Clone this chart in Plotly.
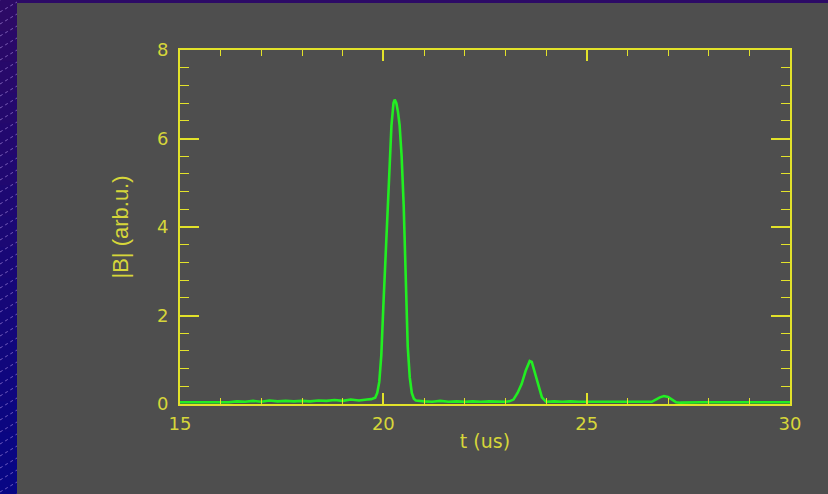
import plotly.graph_objects as go

# ---- data ----
t_us = [15.0, 15.2, 15.4, 15.6, 15.8, 16.0, 16.2, 16.4, 16.6, 16.8,
        17.0, 17.2, 17.4, 17.6, 17.8, 18.0, 18.2, 18.4, 18.6, 18.8,
        19.0, 19.2, 19.4, 19.6, 19.7, 19.8, 19.85, 19.9, 19.95, 20.0,
        20.05, 20.1, 20.15, 20.2, 20.25, 20.28, 20.32, 20.36, 20.4, 20.45,
        20.5, 20.55, 20.6, 20.65, 20.7, 20.75, 20.8, 21.0, 21.2, 21.4,
        21.6, 21.8, 22.0, 22.2, 22.4, 22.6, 22.8, 23.0, 23.1, 23.2,
        23.3, 23.4, 23.5, 23.6, 23.65, 23.7, 23.8, 23.9, 24.0, 24.2,
        24.4, 24.6, 24.8, 25.0, 25.2, 25.4, 25.6, 25.8, 26.0, 26.2,
        26.4, 26.6, 26.7, 26.8, 26.9, 27.0, 27.1, 27.2, 27.3, 27.5,
        27.8, 28.0, 28.3, 28.6, 29.0, 29.3, 29.6, 30.0]
b_abs = [0.04, 0.04, 0.05, 0.04, 0.05, 0.05, 0.04, 0.06, 0.05, 0.07,
         0.05, 0.08, 0.06, 0.07, 0.06, 0.07, 0.06, 0.08, 0.07, 0.09,
         0.07, 0.10, 0.08, 0.10, 0.11, 0.14, 0.25, 0.50, 1.10, 2.20,
         3.20, 4.50, 5.50, 6.30, 6.80, 6.88, 6.80, 6.60, 6.30, 5.60,
         4.50, 2.60, 1.30, 0.60, 0.25, 0.12, 0.08, 0.06, 0.05, 0.07,
         0.05, 0.06, 0.05, 0.06, 0.05, 0.06, 0.05, 0.05, 0.06, 0.10,
         0.25, 0.45, 0.75, 0.97, 0.95, 0.80, 0.45, 0.15, 0.05, 0.06,
         0.05, 0.06, 0.05, 0.05, 0.05, 0.04, 0.05, 0.05, 0.04, 0.05,
         0.05, 0.05, 0.10, 0.15, 0.18, 0.16, 0.10, 0.04, 0.03, 0.04,
         0.04, 0.04, 0.04, 0.04, 0.04, 0.04, 0.04, 0.04]

x_range = [15, 30]
y_range = [0, 8]
x_title = "t (us)"
y_title = "|B| (arb.u.)"

# ---- styling ----
W, H = 828, 494
L, R, T, B = 180, 38, 50, 90
pw, ph = W - L - R, H - T - B
YEL = "#e2e22a"
TXT = "#d6d63a"
GRAY = "#4e4e4e"
GREEN = "#22ee22"


def px(xp):
    return (xp - L) / pw


def py(yp):
    return (H - B - yp) / ph


shapes = []
# purple-to-blue background bands
nb = 16
c0 = (0x2c, 0x0a, 0x66)
c1 = (0x08, 0x06, 0x84)
for i in range(nb):
    f = i / (nb - 1)
    col = "rgb(%d,%d,%d)" % tuple(int(a + (b - a) * f) for a, b in zip(c0, c1))
    y0p = i * H / nb
    y1p = (i + 1) * H / nb + 1
    shapes.append(dict(type="rect", xref="paper", yref="paper", layer="below",
                       x0=px(-2), x1=px(W + 2), y0=py(y1p), y1=py(y0p),
                       line=dict(width=0), fillcolor=col))
# diagonal hatch in the left stripe
yy = -10
while yy < H + 20:
    shapes.append(dict(type="line", xref="paper", yref="paper", layer="below",
                       x0=px(0), y0=py(yy + 10), x1=px(17), y1=py(yy),
                       line=dict(color="rgba(190,160,240,0.55)", width=1, dash="dot")))
    yy += 12
# gray panel
shapes.append(dict(type="rect", xref="paper", yref="paper", layer="below",
                   x0=px(17), x1=px(W + 2), y0=py(H + 2), y1=py(3),
                   line=dict(width=0), fillcolor=GRAY))

fig = go.Figure()
fig.add_trace(go.Scatter(x=t_us, y=b_abs, mode="lines",
                         line=dict(color=GREEN, width=2.6), showlegend=False))

tickfont = dict(family="DejaVu Sans, Liberation Sans, Arial", size=18, color=TXT)

fig.update_layout(
    width=W, height=H,
    margin=dict(l=L, r=R, t=T, b=B, pad=0),
    paper_bgcolor=GRAY, plot_bgcolor=GRAY,
    shapes=shapes,
    showlegend=False,
    xaxis=dict(range=x_range, dtick=5, tick0=15,
               showgrid=False, zeroline=False,
               showline=True, linecolor=YEL, linewidth=2, mirror="allticks",
               ticks="inside", ticklen=11, tickwidth=1.5, tickcolor=YEL,
               minor=dict(dtick=1, ticks="inside", ticklen=6, tickwidth=1.2,
                          tickcolor=YEL, showgrid=False),
               tickfont=tickfont, ticklabelstandoff=2,
               title=dict(text=x_title, standoff=2,
                          font=dict(family="DejaVu Sans, Liberation Sans, Arial",
                                    size=19, color=TXT))),
    yaxis=dict(range=y_range, dtick=2, tick0=0,
               showgrid=False, zeroline=False,
               showline=True, linecolor=YEL, linewidth=2, mirror="allticks",
               ticks="inside", ticklen=19, tickwidth=1.5, tickcolor=YEL,
               minor=dict(dtick=0.4, ticks="inside", ticklen=9, tickwidth=1.2,
                          tickcolor=YEL, showgrid=False),
               tickfont=tickfont, ticklabelstandoff=6,
               title=dict(text=y_title, standoff=22,
                          font=dict(family="Liberation Sans Narrow, Arial Narrow, Liberation Sans, Arial",
                                    size=22, color=TXT))),
)

fig.write_html(
    "out.html",
    config={"displayModeBar": False},
    post_script="document.body.style.margin='0';document.body.style.background='#2c0a66';",
)
